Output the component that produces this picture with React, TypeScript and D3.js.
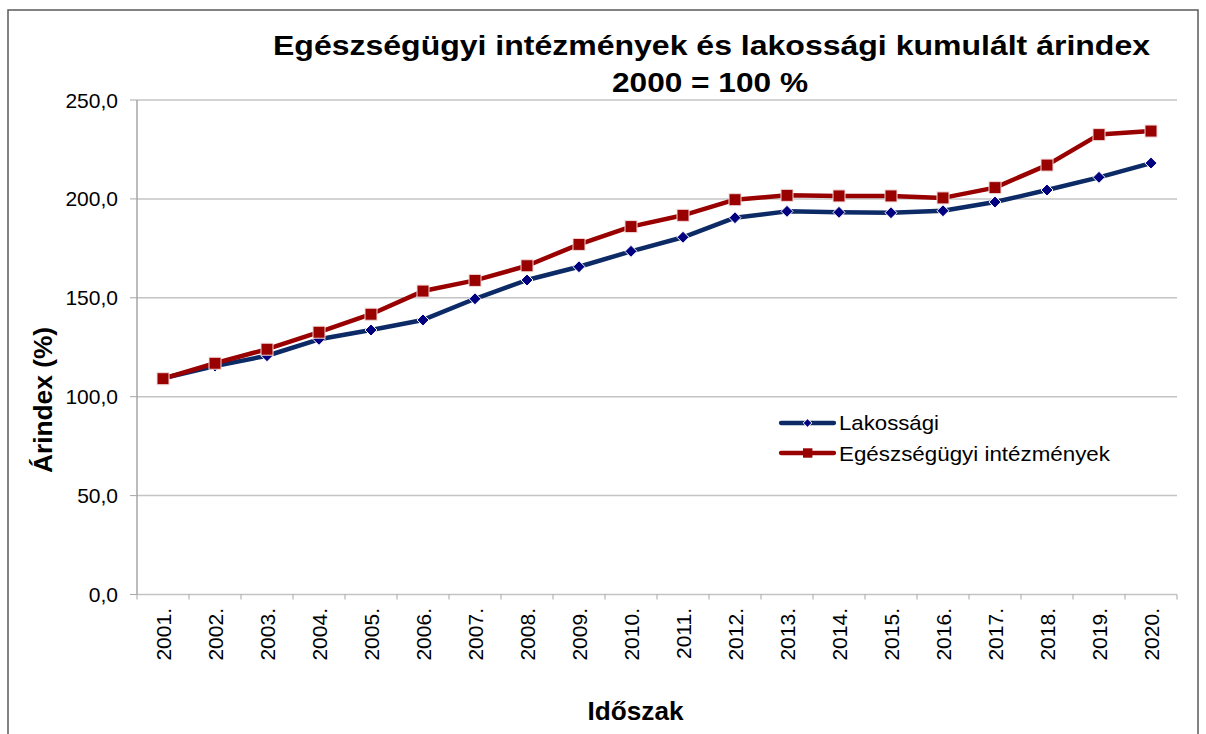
import React from "react";
import * as d3 from "d3";

const years = ["2001.", "2002.", "2003.", "2004.", "2005.", "2006.", "2007.", "2008.", "2009.", "2010.", "2011.", "2012.", "2013.", "2014.", "2015.", "2016.", "2017.", "2018.", "2019.", "2020."];
const lakossagi = [109.3, 115.5, 120.7, 129.0, 133.7, 138.8, 149.5, 159.0, 165.7, 173.5, 180.6, 190.5, 193.7, 193.2, 193.0, 194.0, 198.4, 204.5, 210.9, 218.1];
const egeszsegugyi = [109.1, 116.9, 124.0, 132.6, 141.7, 153.4, 158.8, 166.2, 177.0, 186.0, 191.7, 199.6, 201.8, 201.5, 201.5, 200.5, 205.7, 217.1, 232.5, 234.3];
const yTicks = [0, 50, 100, 150, 200, 250];

const W = 1206, H = 734;
const left = 137, right = 1177, top = 100, bottom = 594.5;

export default function App() {
  const x = d3.scaleBand<string>().domain(years).range([left, right]);
  const y = d3.scaleLinear().domain([0, 250]).range([bottom, top]);
  const cx = (i: number) => (x(years[i]) as number) + x.bandwidth() / 2;
  const line = d3.line<number>().x((_, i) => cx(i)).y((d) => y(d));
  const fmt = (v: number) => v.toFixed(1).replace(".", ",");
  const blue = "#0b2a66";
  const blueMarker = "#000080";
  const red = "#990000";
  const font = "'Liberation Sans', Arial, sans-serif";

  const diamond = (px: number, py: number, r: number) => `M${px},${py - r}L${px + r},${py}L${px},${py + r}L${px - r},${py}Z`;

  return (
    <svg width={W} height={H} style={{ position: "absolute", left: 0, top: 0, background: "#fff" }} fontFamily={font}>
      <rect x={0} y={0} width={W} height={H} fill="#fff" />
      <rect x={8} y={10} width={1190} height={740} fill="none" stroke="#5a5a5a" strokeWidth={1.5} />
      {/* gridlines */}
      {yTicks.map((t) => (
        <g key={t}>
          {t > 0 && <line x1={left} x2={right} y1={y(t)} y2={y(t)} stroke="#c4c4c4" strokeWidth={1.5} />}
          <line x1={left - 7} x2={left} y1={y(t)} y2={y(t)} stroke="#a6a6a6" strokeWidth={1} />
          <text x={118} y={y(t)} dy="0.36em" textAnchor="end" fontSize={21} fill="#000">{fmt(t)}</text>
        </g>
      ))}
      {/* axes */}
      <line x1={left} x2={left} y1={top} y2={bottom} stroke="#a6a6a6" strokeWidth={1.5} />
      <line x1={left} x2={right} y1={bottom} y2={bottom} stroke="#c4c4c4" strokeWidth={1.5} />
      {years.map((yr) => (
        <line key={"t" + yr} x1={x(yr) as number} x2={x(yr) as number} y1={bottom} y2={bottom + 5} stroke="#a6a6a6" strokeWidth={1} />
      ))}
      <line x1={right} x2={right} y1={bottom} y2={bottom + 5} stroke="#a6a6a6" strokeWidth={1} />
      {years.map((yr, i) => (
        <text key={yr} transform={`translate(${cx(i) + 8},${608}) rotate(-90)`} textAnchor="end" fontSize={21} fill="#000">{yr}</text>
      ))}
      {/* lines */}
      <path d={line(lakossagi) as string} fill="none" stroke={blue} strokeWidth={4.5} strokeLinejoin="round" />
      <path d={line(egeszsegugyi) as string} fill="none" stroke={red} strokeWidth={4.5} strokeLinejoin="round" />
      {lakossagi.map((v, i) => (
        <path key={"d" + i} d={diamond(cx(i), y(v), 6)} fill={blueMarker} stroke="#fff" strokeWidth={1} />
      ))}
      {egeszsegugyi.map((v, i) => (
        <rect key={"s" + i} x={cx(i) - 6} y={y(v) - 6} width={12} height={12} fill={red} stroke="#f2d9d9" strokeWidth={1} />
      ))}
      {/* legend */}
      <g>
        <line x1={781} x2={834} y1={423} y2={423} stroke={blue} strokeWidth={4.3} strokeLinecap="round" />
        <path d={diamond(807.5, 423, 4.3)} fill={blueMarker} stroke="#fff" strokeWidth={1} />
        <text x={839} y={430} fontSize={21} textLength={100} lengthAdjust="spacingAndGlyphs" fill="#000">Lakossági</text>
        <line x1={781} x2={834} y1={453} y2={453} stroke={red} strokeWidth={4.3} strokeLinecap="round" />
        <rect x={803} y={448.3} width={9.4} height={9.4} fill={red} />
        <text x={839} y={461} fontSize={21} textLength={271} lengthAdjust="spacingAndGlyphs" fill="#000">Egészségügyi intézmények</text>
      </g>
      {/* titles */}
      <text x={711.5} y={54.5} textAnchor="middle" fontSize={27} fontWeight="bold" textLength={877} lengthAdjust="spacingAndGlyphs" fill="#000">Egészségügyi intézmények és lakossági kumulált árindex</text>
      <text x={710} y={91.5} textAnchor="middle" fontSize={27} fontWeight="bold" textLength={196} lengthAdjust="spacingAndGlyphs" fill="#000">2000 = 100 %</text>
      <text x={635.5} y={720} textAnchor="middle" fontSize={25} fontWeight="bold" textLength={96} lengthAdjust="spacingAndGlyphs" fill="#000">Időszak</text>
      <text transform={`translate(52,400) rotate(-90)`} textAnchor="middle" fontSize={25} fontWeight="bold" textLength={146} lengthAdjust="spacingAndGlyphs" fill="#000">Árindex (%)</text>
    </svg>
  );
}
